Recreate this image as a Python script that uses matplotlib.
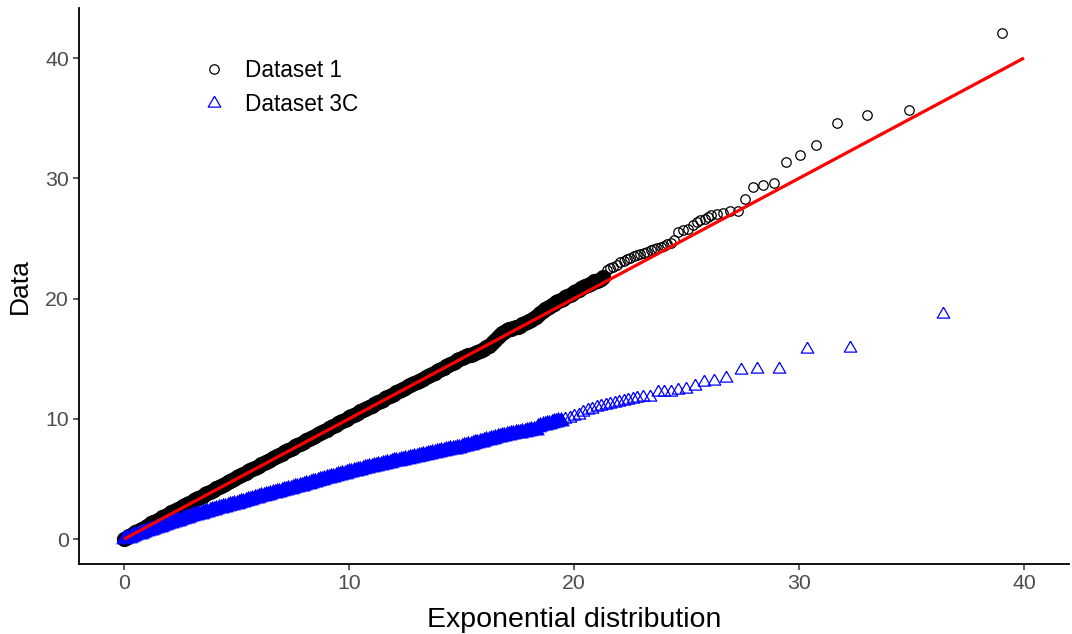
import matplotlib
matplotlib.use('Agg')
import matplotlib.pyplot as plt

plt.rcParams['font.family'] = ['Liberation Sans', 'DejaVu Sans']

# Dataset 1 (quantile pairs)
x1 = [0.0, 0.1, 0.2, 0.3, 0.4, 0.5, 0.6, 0.7, 0.8, 0.9,
      1.0, 1.1, 1.2, 1.3, 1.4, 1.5, 1.6, 1.7, 1.8, 1.9,
      2.0, 2.1, 2.2, 2.3, 2.4, 2.5, 2.6, 2.7, 2.8, 2.9,
      3.0, 3.1, 3.2, 3.3, 3.4, 3.5, 3.6, 3.7, 3.8, 3.9,
      4.0, 4.1, 4.2, 4.3, 4.4, 4.5, 4.6, 4.7, 4.8, 4.9,
      5.0, 5.1, 5.2, 5.3, 5.4, 5.5, 5.6, 5.7, 5.8, 5.9,
      6.0, 6.1, 6.2, 6.3, 6.4, 6.5, 6.6, 6.7, 6.8, 6.9,
      7.0, 7.1, 7.2, 7.3, 7.4, 7.5, 7.6, 7.7, 7.8, 7.9,
      8.0, 8.1, 8.2, 8.3, 8.4, 8.5, 8.6, 8.7, 8.8, 8.9,
      9.0, 9.1, 9.2, 9.3, 9.4, 9.5, 9.6, 9.7, 9.8, 9.9,
      10.0, 10.1, 10.2, 10.3, 10.4, 10.5, 10.6, 10.7, 10.8, 10.9,
      11.0, 11.1, 11.2, 11.3, 11.4, 11.5, 11.6, 11.7, 11.8, 11.9,
      12.0, 12.1, 12.2, 12.3, 12.4, 12.5, 12.6, 12.7, 12.8, 12.9,
      13.0, 13.1, 13.2, 13.3, 13.4, 13.5, 13.6, 13.7, 13.8, 13.9,
      14.0, 14.1, 14.2, 14.3, 14.4, 14.5, 14.6, 14.7, 14.8, 14.9,
      15.0, 15.1, 15.2, 15.3, 15.4, 15.5, 15.6, 15.7, 15.8, 15.9,
      16.0, 16.1, 16.2, 16.3, 16.4, 16.5, 16.6, 16.7, 16.8, 16.9,
      17.0, 17.1, 17.2, 17.3, 17.4, 17.5, 17.6, 17.7, 17.8, 17.9,
      18.0, 18.1, 18.2, 18.3, 18.4, 18.5, 18.6, 18.7, 18.8, 18.9,
      19.0, 19.1, 19.2, 19.3, 19.4, 19.5, 19.6, 19.7, 19.8, 19.9,
      20.0, 20.1, 20.2, 20.3, 20.4, 20.5, 20.6, 20.7, 20.8, 20.9,
      21.0, 21.1, 21.2, 21.3,
      21.45, 21.6, 21.75, 21.9, 22.05, 22.2, 22.35, 22.5, 22.65, 22.8,
      22.95, 23.1, 23.25, 23.4, 23.55, 23.7, 23.85, 24.0, 24.15, 24.3,
      24.45, 24.64, 24.86, 25.08, 25.3, 25.45, 25.62, 25.8, 25.95, 26.1,
      26.34, 26.64, 26.93, 27.27, 27.6, 27.97, 28.4, 28.87, 29.4, 30.03,
      30.77, 31.7, 33.0, 34.9, 39.04]
y1 = [0.00, 0.12, 0.24, 0.34, 0.45, 0.55, 0.66, 0.76, 0.86, 0.96,
      1.07, 1.20, 1.30, 1.40, 1.50, 1.61, 1.71, 1.81, 1.91, 2.01,
      2.11, 2.21, 2.31, 2.41, 2.51, 2.61, 2.71, 2.81, 2.91, 3.01,
      3.11, 3.21, 3.31, 3.41, 3.51, 3.61, 3.71, 3.81, 3.91, 4.01,
      4.11, 4.21, 4.31, 4.41, 4.51, 4.61, 4.71, 4.81, 4.91, 5.01,
      5.12, 5.22, 5.33, 5.43, 5.52, 5.62, 5.71, 5.81, 5.91, 6.01,
      6.11, 6.21, 6.31, 6.41, 6.51, 6.61, 6.71, 6.81, 6.91, 7.01,
      7.10, 7.20, 7.30, 7.40, 7.50, 7.60, 7.70, 7.80, 7.90, 8.00,
      8.10, 8.20, 8.31, 8.41, 8.51, 8.61, 8.71, 8.81, 8.91, 9.01,
      9.11, 9.21, 9.31, 9.41, 9.51, 9.61, 9.71, 9.81, 9.91, 10.01,
      10.11, 10.21, 10.31, 10.41, 10.51, 10.61, 10.71, 10.81, 10.91, 11.01,
      11.10, 11.20, 11.30, 11.40, 11.50, 11.60, 11.70, 11.80, 11.90, 12.00,
      12.10, 12.20, 12.30, 12.40, 12.50, 12.60, 12.70, 12.80, 12.90, 13.00,
      13.08, 13.17, 13.26, 13.35, 13.45, 13.55, 13.65, 13.75, 13.85, 13.95,
      14.05, 14.15, 14.25, 14.35, 14.45, 14.55, 14.65, 14.75, 14.85, 14.95,
      15.05, 15.13, 15.20, 15.27, 15.33, 15.38, 15.45, 15.53, 15.62, 15.72,
      15.82, 15.93, 16.05, 16.20, 16.38, 16.58, 16.80, 17.00, 17.15, 17.25,
      17.35, 17.43, 17.50, 17.55, 17.60, 17.67, 17.75, 17.85, 17.95, 18.05,
      18.15, 18.25, 18.35, 18.48, 18.62, 18.78, 18.95, 19.10, 19.22, 19.33,
      19.46, 19.57, 19.68, 19.79, 19.90, 20.00, 20.10, 20.20, 20.30, 20.41,
      20.52, 20.63, 20.74, 20.85, 20.95, 21.05, 21.15, 21.24, 21.33, 21.42,
      21.50, 21.58, 21.66, 21.75,
      22.37, 22.50, 22.65, 22.80, 23.00, 23.15, 23.25, 23.40, 23.50, 23.60,
      23.70, 23.80, 23.90, 24.00, 24.10, 24.20, 24.30, 24.40, 24.50, 24.65,
      24.90, 25.50, 25.70, 25.80, 26.10, 26.40, 26.50, 26.60, 26.80, 26.94,
      27.00, 27.08, 27.30, 27.30, 28.30, 29.27, 29.40, 29.60, 31.35, 31.90,
      32.77, 34.60, 35.30, 35.70, 42.05]
n1_dense = 214   # points so packed that the markers merge into a solid band

# Dataset 3C
x3c = [0.0, 0.1, 0.2, 0.3, 0.4, 0.5, 0.6, 0.7, 0.8, 0.9,
       1.0, 1.1, 1.2, 1.3, 1.4, 1.5, 1.6, 1.7, 1.8, 1.9,
       2.0, 2.1, 2.2, 2.3, 2.4, 2.5, 2.6, 2.7, 2.8, 2.9,
       3.0, 3.1, 3.2, 3.3, 3.4, 3.5, 3.6, 3.7, 3.8, 3.9,
       4.0, 4.1, 4.2, 4.3, 4.4, 4.5, 4.6, 4.7, 4.8, 4.9,
       5.0, 5.1, 5.2, 5.3, 5.4, 5.5, 5.6, 5.7, 5.8, 5.9,
       6.0, 6.1, 6.2, 6.3, 6.4, 6.5, 6.6, 6.7, 6.8, 6.9,
       7.0, 7.1, 7.2, 7.3, 7.4, 7.5, 7.6, 7.7, 7.8, 7.9,
       8.0, 8.1, 8.2, 8.3, 8.4, 8.5, 8.6, 8.7, 8.8, 8.9,
       9.0, 9.1, 9.2, 9.3, 9.4, 9.5, 9.6, 9.7, 9.8, 9.9,
       10.0, 10.1, 10.2, 10.3, 10.4, 10.5, 10.6, 10.7, 10.8, 10.9,
       11.0, 11.1, 11.2, 11.3, 11.4, 11.5, 11.6, 11.7, 11.8, 11.9,
       12.0, 12.1, 12.2, 12.3, 12.4, 12.5, 12.6, 12.7, 12.8, 12.9,
       13.0, 13.1, 13.2, 13.3, 13.4, 13.5, 13.6, 13.7, 13.8, 13.9,
       14.0, 14.1, 14.2, 14.3, 14.4, 14.5, 14.6, 14.7, 14.8, 14.9,
       15.0, 15.1, 15.2, 15.3, 15.4, 15.5, 15.6, 15.7, 15.8, 15.9,
       16.0, 16.1, 16.2, 16.3, 16.4, 16.5, 16.6, 16.7, 16.8, 16.9,
       17.0, 17.1, 17.2, 17.3, 17.4, 17.5, 17.6, 17.7, 17.8, 17.9,
       18.0, 18.1, 18.2, 18.3, 18.4, 18.5, 18.6, 18.7, 18.8, 18.9,
       19.0, 19.1, 19.2, 19.3, 19.4,
       19.6, 19.8, 20.0, 20.2, 20.4, 20.6, 20.8, 21.0, 21.2, 21.4,
       21.6, 21.8, 22.0, 22.2, 22.4, 22.6, 22.79, 23.08, 23.38, 23.75,
       24.01, 24.31, 24.64, 24.99, 25.36, 25.76, 26.24, 26.77, 27.4, 28.15,
       29.1, 30.36, 32.28, 36.41]
y3c = [0.00, 0.07, 0.13, 0.20, 0.26, 0.33, 0.39, 0.46, 0.52, 0.59,
       0.65, 0.72, 0.78, 0.85, 0.91, 0.98, 1.04, 1.11, 1.17, 1.24,
       1.30, 1.36, 1.42, 1.48, 1.54, 1.60, 1.66, 1.72, 1.78, 1.84,
       1.90, 1.96, 2.01, 2.07, 2.12, 2.18, 2.23, 2.29, 2.34, 2.40,
       2.45, 2.50, 2.55, 2.60, 2.65, 2.70, 2.75, 2.80, 2.85, 2.90,
       2.95, 3.01, 3.06, 3.12, 3.17, 3.23, 3.28, 3.34, 3.39, 3.45,
       3.50, 3.55, 3.60, 3.65, 3.70, 3.75, 3.80, 3.85, 3.90, 3.95,
       4.00, 4.05, 4.10, 4.15, 4.20, 4.25, 4.30, 4.35, 4.40, 4.45,
       4.50, 4.56, 4.61, 4.67, 4.72, 4.78, 4.83, 4.89, 4.94, 5.00,
       5.05, 5.10, 5.15, 5.20, 5.25, 5.30, 5.35, 5.40, 5.45, 5.50,
       5.55, 5.60, 5.64, 5.69, 5.73, 5.78, 5.82, 5.87, 5.91, 5.96,
       6.00, 6.05, 6.09, 6.14, 6.18, 6.23, 6.27, 6.32, 6.36, 6.41,
       6.45, 6.49, 6.53, 6.57, 6.61, 6.65, 6.69, 6.73, 6.77, 6.81,
       6.85, 6.89, 6.93, 6.97, 7.01, 7.05, 7.09, 7.13, 7.17, 7.21,
       7.25, 7.29, 7.33, 7.37, 7.41, 7.45, 7.49, 7.53, 7.57, 7.61,
       7.65, 7.70, 7.75, 7.80, 7.85, 7.90, 7.95, 8.00, 8.05, 8.10,
       8.15, 8.20, 8.25, 8.30, 8.35, 8.40, 8.45, 8.50, 8.55, 8.60,
       8.65, 8.69, 8.72, 8.76, 8.79, 8.83, 8.86, 8.90, 8.93, 8.97,
       9.00, 9.03, 9.07, 9.10, 9.35, 9.40, 9.45, 9.50, 9.55, 9.60,
       9.65, 9.70, 9.75, 9.80, 9.85,
       9.95, 10.05, 10.20, 10.35, 10.55, 10.75, 10.85, 10.95, 11.05, 11.15,
       11.25, 11.35, 11.40, 11.50, 11.55, 11.62, 11.70, 11.83, 11.83, 12.25,
       12.25, 12.25, 12.39, 12.47, 12.72, 13.08, 13.17, 13.40, 14.05, 14.10,
       14.16, 15.83, 15.90, 18.71]
n3c_dense = 195

# reference line y = x
line_x = [0, 40]
line_y = [0, 40]

# equilateral, centroid-centred triangle like ggplot's shape 2
tri = [(0, 1), (-0.866, -0.5), (0.866, -0.5), (0, 1)]

fig = plt.figure(figsize=(10.72, 6.34), dpi=100)
ax = fig.add_axes([0.0737, 0.1099, 0.9235, 0.8775])

# thousands of overlapping points read as a solid band
ax.plot(x1[:n1_dense], y1[:n1_dense], 'o', color='black', ms=11, mew=0, ls='none')
ax.plot(x1, y1, 'o', mfc='none', mec='black', ms=6.8, mew=0.9, ls='none', label='Dataset 1')
ax.plot(x3c[:n3c_dense], y3c[:n3c_dense], marker=tri, color='blue', ms=14, mew=0, ls='none')
ax.plot(x3c, y3c, marker=tri, mfc='none', mec='blue', ms=10.4, mew=0.9, ls='none', label='Dataset 3C')
ax.plot(line_x, line_y, color='red', lw=2.3, solid_capstyle='butt')

ax.set_xlim(-2, 42)
ax.set_ylim(-2.1, 44.16)
ax.set_xticks([0, 10, 20, 30, 40])
ax.set_yticks([0, 10, 20, 30, 40])

for s in ['top', 'right']:
    ax.spines[s].set_visible(False)
for s in ['left', 'bottom']:
    ax.spines[s].set_linewidth(1.3)
    ax.spines[s].set_color('black')

ax.tick_params(length=4.3, width=1.1, color='#333333', labelcolor='#4D4D4D',
               labelsize=15.3, pad=3)
ax.set_xlabel('Exponential distribution', fontsize=20.5, labelpad=9.5)
ax.set_ylabel('Data', fontsize=19, labelpad=9.5)

ax.legend(loc='upper left', bbox_to_anchor=(0.125, 0.908), frameon=False,
          fontsize=16.3, handlelength=1.0, handletextpad=0.87,
          labelspacing=0.49, borderpad=0, borderaxespad=0)

plt.savefig('out.png', dpi=100)
